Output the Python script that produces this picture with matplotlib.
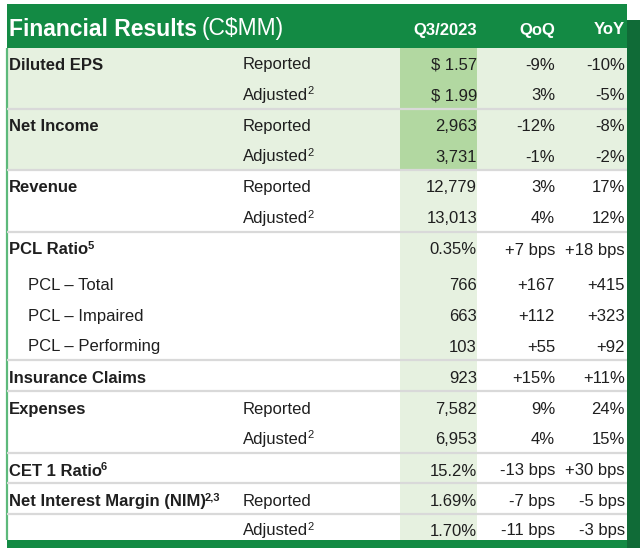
import matplotlib
matplotlib.use('Agg')
import matplotlib.pyplot as plt
from matplotlib.patches import Rectangle

plt.rcParams['font.family'] = ['Liberation Sans', 'DejaVu Sans']

# table content
labels = ['Diluted EPS', '', 'Net Income', '', 'Revenue', '', 'PCL Ratio', 'PCL – Total',
          'PCL – Impaired', 'PCL – Performing', 'Insurance Claims', 'Expenses', '',
          'CET 1 Ratio', 'Net Interest Margin (NIM)', '']
label_sup = ['', '', '', '', '', '', '5', '', '', '', '', '', '', '6', '2,3', '']
indent = [False] * 7 + [True] * 3 + [False] * 6
sub_labels = ['Reported', 'Adjusted', 'Reported', 'Adjusted', 'Reported', 'Adjusted',
              '', '', '', '', '', 'Reported', 'Adjusted', '', 'Reported', 'Adjusted']
q3 = ['$ 1.57', '$ 1.99', '2,963', '3,731', '12,779', '13,013', '0.35%', '766', '663', '103',
      '923', '7,582', '6,953', '15.2%', '1.69%', '1.70%']
qoq = ['-9%', '3%', '-12%', '-1%', '3%', '4%', '+7 bps', '+167', '+112', '+55', '+15%',
       '9%', '4%', '-13 bps', '-7 bps', '-11 bps']
yoy = ['-10%', '-5%', '-8%', '-2%', '17%', '12%', '+18 bps', '+415', '+323', '+92', '+11%',
       '24%', '15%', '+30 bps', '-5 bps', '-3 bps']
col_headers = ['Q3/2023', 'QoQ', 'YoY']

# layout (pixels)
row_h = [30, 31, 31, 30, 31, 31, 36, 31, 31, 30, 31, 31, 31, 30, 31, 26]
text_dy = [2, 2, 2, 2, 2, 2, 0, 2, 2, 2, 3, 3, 2, 3, 3, 4]
sep_after = [1, 3, 5, 9, 10, 12, 13, 14]
shaded_rows = 4
top, left, right = 48, 7, 627
q3_l, q3_r = 400, 477
col_r = [477, 555, 625]

GREEN = '#138A44'
DARK = '#106B37'
LIGHT = '#E6F1E0'
MID = '#B2D8A1'
SEP = '#D9D9D9'
TXT = '#1F1F1F'

fig = plt.figure(figsize=(6.4, 5.48), dpi=100)
ax = fig.add_axes([0, 0, 1, 1])
ax.set_xlim(0, 640)
ax.set_ylim(548, 0)
ax.axis('off')

bounds = [top]
for h in row_h:
    bounds.append(bounds[-1] + h)
bottom = bounds[-1]

# backgrounds
ax.add_patch(Rectangle((left, top), right - left, bounds[shaded_rows] - top, color=LIGHT, lw=0))
ax.add_patch(Rectangle((q3_l, top), q3_r - q3_l, bounds[shaded_rows] - top, color=MID, lw=0))
ax.add_patch(Rectangle((q3_l, bounds[shaded_rows]), q3_r - q3_l, bottom - bounds[shaded_rows],
                       color=LIGHT, lw=0))
ax.add_patch(Rectangle((left, 4), right - left, top - 4, color=GREEN, lw=0))
ax.add_patch(Rectangle((left, bottom), right - left, 548 - bottom, color=GREEN, lw=0))
ax.add_patch(Rectangle((right, 20), 640 - right, 528, color=DARK, lw=0))
ax.plot([left, left], [top, bottom], color='#5DB97B', lw=1.6, solid_capstyle='butt')

for i in sep_after:
    ax.plot([left, right], [bounds[i + 1]] * 2, color=SEP, lw=1.6, solid_capstyle='butt')

fig.canvas.draw()
renderer = fig.canvas.get_renderer()


def put(x, y, s, sup='', bold=False, size=12, color=TXT, ha='left'):
    t = ax.text(x, y, s, fontsize=size, fontweight='bold' if bold else 'normal',
                color=color, ha=ha, va='center')
    if sup:
        bb = t.get_window_extent(renderer)
        ax.text(bb.x1 - 1, y - 4, sup, fontsize=8, fontweight='bold' if bold else 'normal',
                color=color, ha='left', va='center')
    return t


# header
t = put(9, 29, 'Financial Results', bold=True, size=16.5, color='white')
bb = t.get_window_extent(renderer)
put(bb.x1 + 5, 29, '(C\\$MM)', size=16.5, color='white')
for name, xr in zip(col_headers, col_r):
    put(xr, 30, name, bold=True, size=12, color='white', ha='right')

# body
for i in range(len(row_h)):
    y = (bounds[i] + bounds[i + 1]) / 2 + text_dy[i]
    if labels[i]:
        if indent[i]:
            put(28, y, labels[i])
        else:
            put(9, y, labels[i], sup=label_sup[i], bold=True)
    if sub_labels[i]:
        put(243, y, sub_labels[i], sup='2' if sub_labels[i] == 'Adjusted' else '')
    put(col_r[0], y, q3[i].replace('$', '\\$'), ha='right')
    put(col_r[1], y, qoq[i], ha='right')
    put(col_r[2], y, yoy[i], ha='right')

fig.savefig('out.png', dpi=100)
